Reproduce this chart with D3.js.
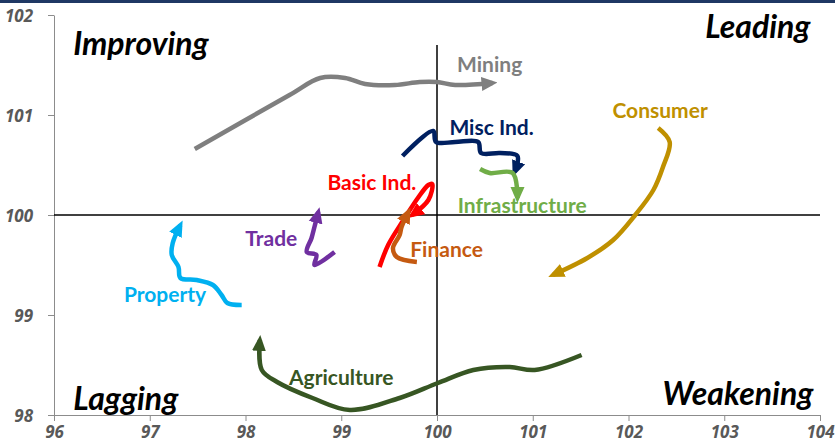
<!DOCTYPE html>
<html>
<head>
<meta charset="utf-8">
<script src="https://cdn.jsdelivr.net/npm/d3@7"></script>
<style>
  body { margin: 0; background: #fff; }
  svg { display: block; font-family: Lato, "Open Sans", sans-serif; }
  .tick text { font-family: "Open Sans", Lato, sans-serif; font-style: italic; font-weight: bold; fill: #595959; font-size: 17px; }
  .quad { font-style: italic; font-weight: bold; font-size: 32px; fill: #000; }
  .lbl { font-weight: bold; font-size: 21px; }
</style>
</head>
<body>
<div id="chart"></div>
<script>
// sector names, colours and tails: [ratio, momentum]
var sectors = ["Mining", "Misc Ind.", "Infrastructure", "Consumer", "Basic Ind.", "Finance", "Trade", "Property", "Agriculture"];
var colors = ["#7f7f7f", "#002060", "#70ad47", "#bf9000", "#ff0000", "#c55a11", "#7030a0", "#00b0f0", "#375623"];

var mining = [[97.47, 100.66], [98.46, 101.20], [98.78, 101.37], [99.04, 101.37], [99.25, 101.31],
  [99.56, 101.30], [99.82, 101.33], [100.00, 101.33], [100.19, 101.30], [100.58, 101.32]];
var miscInd = [[99.64, 100.59], [99.96, 100.84], [99.99, 100.73], [100.19, 100.73], [100.43, 100.73],
  [100.46, 100.62], [100.66, 100.62], [100.84, 100.59], [100.81, 100.43]];
var infrastructure = [[100.45, 100.46], [100.55, 100.42], [100.79, 100.42], [100.84, 100.17]];
var consumer = [[102.31, 100.87], [102.43, 100.73], [102.36, 100.48], [102.26, 100.25], [102.07, 100.0],
  [101.84, 99.75], [101.57, 99.57], [101.21, 99.40]];
var basicInd = [[99.40, 99.48], [99.49, 99.70], [99.65, 99.95], [99.80, 100.17], [99.91, 100.30],
  [99.95, 100.31], [99.91, 100.15], [99.74, 100.00]];
var finance = [[99.79, 99.53], [99.58, 99.58], [99.54, 99.67], [99.61, 99.80], [99.63, 99.88], [99.70, 100.03]];
var trade = [[98.93, 99.63], [98.72, 99.50], [98.74, 99.60], [98.64, 99.63], [98.69, 99.77], [98.72, 99.88], [98.76, 100.03]];
var property = [[97.96, 99.10], [97.81, 99.12], [97.75, 99.20], [97.66, 99.30], [97.49, 99.35], [97.32, 99.37],
  [97.30, 99.48], [97.23, 99.60], [97.24, 99.72], [97.32, 99.90]];
var agriculture = [[101.51, 98.60], [101.02, 98.45], [100.76, 98.48], [100.38, 98.45], [100.01, 98.32],
  [99.61, 98.17], [99.09, 98.05], [98.70, 98.17], [98.33, 98.33], [98.17, 98.45], [98.15, 98.75]];

// label anchor points for each sector (data coords)
var labelPos = [[100.55, 101.43], [100.57, 100.80], [100.89, 100.02], [102.33, 100.97], [99.32, 100.25],
  [100.10, 99.58], [98.27, 99.69], [97.16, 99.13], [99.00, 98.30]];

var xTicks = [96, 97, 98, 99, 100, 101, 102, 103, 104];
var yTicks = [98, 99, 100, 101, 102];
var quadrants = ["Improving", "Leading", "Lagging", "Weakening"];

var tails = [mining, miscInd, infrastructure, consumer, basicInd, finance, trade, property, agriculture];

var width = 835, height = 445;
var margin = {top: 15, right: 15, bottom: 30, left: 54};

var svg = d3.select("#chart").append("svg")
  .attr("width", width)
  .attr("height", height);

// top banner edge
svg.append("rect").attr("x", 0).attr("y", 0).attr("width", width).attr("height", 3).attr("fill", "#1f3864");

var x = d3.scaleLinear().domain([96, 104]).range([margin.left, width - margin.right]);
var y = d3.scaleLinear().domain([98, 102]).range([height - margin.bottom, margin.top]);

var xAxis = svg.append("g")
  .attr("transform", "translate(0," + y(98) + ")")
  .call(d3.axisBottom(x).tickValues(xTicks).tickFormat(d3.format("d")).tickSize(6).tickPadding(5).tickSizeOuter(0));
var yAxis = svg.append("g")
  .attr("transform", "translate(" + x(96) + ",0)")
  .call(d3.axisLeft(y).tickValues(yTicks).tickFormat(d3.format("d")).tickSize(6).tickPadding(15).tickSizeOuter(0));

[xAxis, yAxis].forEach(function(a) {
  a.select(".domain").attr("stroke", "#8c8c8c");
  a.selectAll(".tick line").attr("stroke", "#8c8c8c");
});
yAxis.selectAll(".tick text").attr("dy", "0.36em");

// cross hairs at 100 / 100
svg.append("line").attr("x1", x(100)).attr("x2", x(100)).attr("y1", y(101.7)).attr("y2", y(98))
  .attr("stroke", "#000").attr("stroke-width", 1.5);
svg.append("line").attr("x1", x(96)).attr("x2", x(104)).attr("y1", y(100)).attr("y2", y(100))
  .attr("stroke", "#000").attr("stroke-width", 1.5);

// quadrant names
svg.append("text").attr("class", "quad").attr("x", x(96.2)).attr("y", y(101.6)).text(quadrants[0]);
svg.append("text").attr("class", "quad").attr("x", x(103.9)).attr("y", y(101.77)).attr("text-anchor", "end").text(quadrants[1]);
svg.append("text").attr("class", "quad").attr("x", x(96.2)).attr("y", y(98.05)).text(quadrants[2]);
svg.append("text").attr("class", "quad").attr("x", x(103.93)).attr("y", y(98.1)).attr("text-anchor", "end").text(quadrants[3]);

var defs = svg.append("defs");
var line = d3.line()
  .x(function(d) { return x(d[0]); })
  .y(function(d) { return y(d[1]); })
  .curve(d3.curveCatmullRom.alpha(0.5));

tails.forEach(function(t, i) {
  defs.append("marker")
    .attr("id", "arrow" + i)
    .attr("viewBox", "0 -8 16 16")
    .attr("markerUnits", "userSpaceOnUse")
    .attr("markerWidth", 16)
    .attr("markerHeight", 16)
    .attr("refX", 11)
    .attr("refY", 0)
    .attr("orient", "auto")
    .append("path")
      .attr("d", "M0,-7L16,0L0,7Z")
      .attr("fill", colors[i]);

  svg.append("path")
    .datum(t)
    .attr("d", line)
    .attr("fill", "none")
    .attr("stroke", colors[i])
    .attr("stroke-width", 4.5)
    .attr("stroke-linejoin", "round")
    .attr("marker-end", "url(#arrow" + i + ")");

  svg.append("text")
    .attr("class", "lbl")
    .attr("x", x(labelPos[i][0]))
    .attr("y", y(labelPos[i][1]))
    .attr("text-anchor", "middle")
    .attr("fill", colors[i])
    .text(sectors[i]);
});
</script>
</body>
</html>
